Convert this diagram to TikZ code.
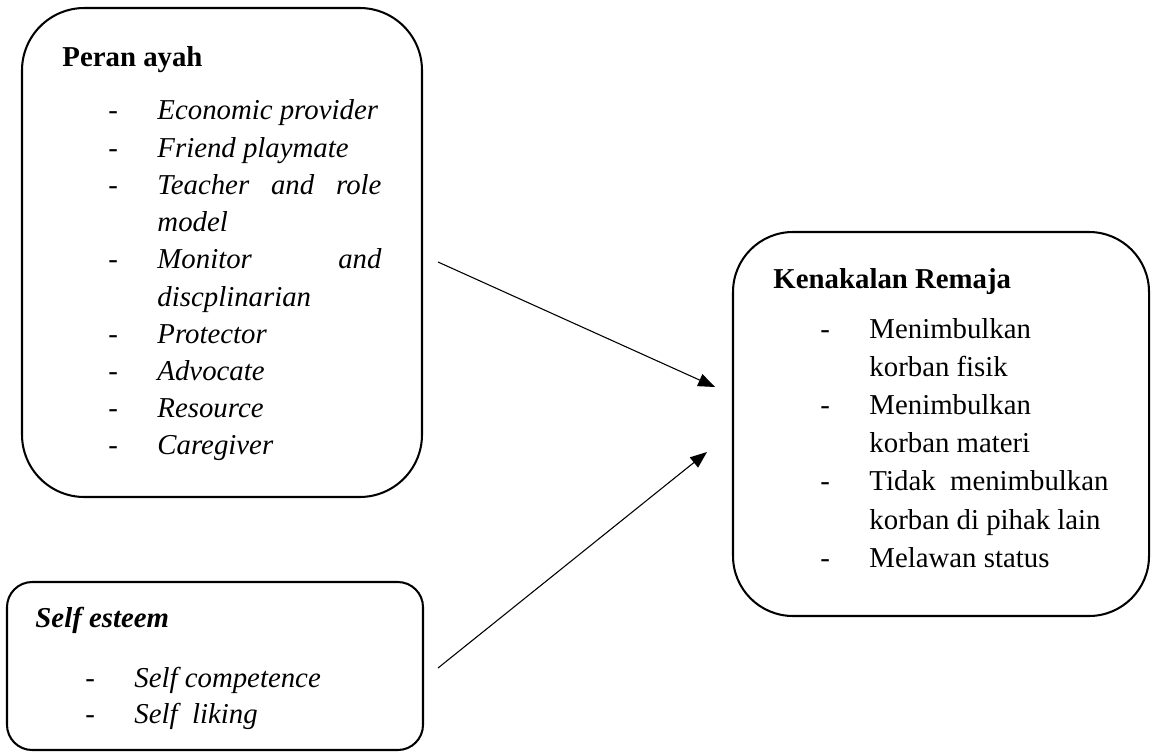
\documentclass[tikz,border=0pt]{standalone}
\usepackage{fontspec}
\setmainfont{Liberation Serif}
\usetikzlibrary{calc,arrows.meta,positioning,fit}

\newdimen\px
\px=0.41667pt

\begin{document}
\begin{tikzpicture}[x=0.41667pt,y=-0.41667pt,
    box/.style={draw, line width=0.85pt, inner sep=0pt},
    txt/.style={anchor=base west, inner sep=0pt, font=\fontsize{12}{14}\selectfont},
    arr/.style={-{Triangle[length=7pt,width=5.4pt]}, line width=0.45pt}]

\newcommand{\dashLine}[1]{\makebox[49\px][l]{-}#1}
\newcommand{\contLine}[1]{\hspace*{49\px}#1}

\useasboundingbox (0,0) rectangle (1158,751);

% Peran ayah
\node[box, rounded corners=26pt, fit={(22,8) (422,497)}] (ayah) {};
\node[txt] (ayahHead) at (62,67) {\bfseries Peran ayah};
\foreach \ln [count=\i from 0] in {
    \dashLine{Economic provider},
    \dashLine{Friend playmate},
    \dashLine{\makebox[224\px][s]{Teacher and role}},
    \contLine{model},
    \dashLine{\makebox[224\px][s]{Monitor and}},
    \contLine{discplinarian},
    \dashLine{Protector},
    \dashLine{Advocate},
    \dashLine{Resource},
    \dashLine{Caregiver}}
{
    \node[txt] (ayahItem\i) at (108,120+37.2*\i) {\itshape\ln};
}

% Self esteem
\node[box, rounded corners=10.5pt, fit={(7,582) (423,750)}] (self) {};
\node[txt] (selfHead) at (35,627) {\bfseries\itshape Self esteem};
\foreach \ln [count=\i from 0] in {
    \dashLine{Self competence},
    \dashLine{Self\ \ liking}}
{
    \node[txt] (selfItem\i) at (85,687+36*\i) {\itshape\ln};
}

% Kenakalan Remaja
\node[box, rounded corners=25pt, fit={(733,232) (1149,616)}] (nakal) {};
\node[txt] (nakalHead) at (773,288) {\bfseries Kenakalan Remaja};
\foreach \ln [count=\i from 0] in {
    \dashLine{Menimbulkan},
    \contLine{korban fisik},
    \dashLine{Menimbulkan},
    \contLine{korban materi},
    \dashLine{\makebox[239\px][s]{Tidak menimbulkan}},
    \contLine{korban di pihak lain},
    \dashLine{Melawan status}}
{
    \node[txt] (nakalItem\i) at (820,338+38.2*\i) {\ln};
}

% panah
\coordinate (ayahOut) at (438,262);
\coordinate (selfOut) at (438,668);
\coordinate (nakalInA) at (715,387);
\coordinate (nakalInB) at (707,452);
\draw[arr] (ayahOut) -- (nakalInA);
\draw[arr] (selfOut) -- (nakalInB);

\end{tikzpicture}
\end{document}
